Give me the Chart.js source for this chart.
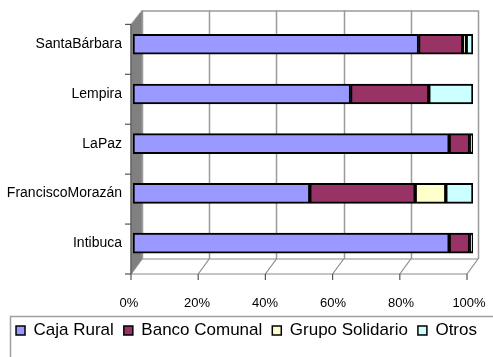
<!DOCTYPE html>
<html><head><meta charset="utf-8">
<script src="https://cdn.jsdelivr.net/npm/chart.js@4/dist/chart.umd.min.js"></script>
<style>html,body{margin:0;padding:0;background:#fff}canvas{display:block}</style>
</head><body>
<canvas id="c" width="493" height="357"></canvas>
<script>
const categories = ["SantaBárbara", "Lempira", "LaPaz", "FranciscoMorazán", "Intibuca"];
const cajaRural = [84, 64, 93, 52, 93];
const bancoComunal = [13, 23, 6, 31, 6];
const grupoSolidario = [1, 0, 0, 9, 0];
const otros = [2, 13, 1, 8, 1];
const tickValues = [0, 20, 40, 60, 80, 100];

const FONT = "'Liberation Sans Narrow', 'Liberation Sans', Arial, sans-serif";

const walls = {
  id: 'walls',
  beforeDatasetsDraw(chart) {
    const ctx = chart.ctx, ca = chart.chartArea, xs = chart.scales.x;
    const fL = xs.getPixelForValue(0) - 2, fR = xs.getPixelForValue(100) - 6;
    const fT = ca.top + 5, fB = ca.bottom + 6;
    const dx = 11, dy = -14;
    const bL = fL + dx, bR = fR + dx, bT = fT + dy, bB = fB + dy - 1;
    const front = v => fL + (fR - fL) * v / 100;
    const back = v => bL + (bR - bL) * v / 100;
    ctx.save();
    ctx.fillStyle = '#ffffff';
    ctx.fillRect(bL, bT, bR - bL, bB - bT);
    ctx.strokeStyle = '#9a9a9a';
    ctx.lineWidth = 1.5;
    tickValues.forEach(v => {
      const x = Math.round(back(v)) + 0.5;
      ctx.beginPath(); ctx.moveTo(x, bT); ctx.lineTo(x, bB); ctx.stroke();
    });
    ctx.beginPath(); ctx.moveTo(bL, bT + 0.5); ctx.lineTo(bR, bT + 0.5); ctx.stroke();
    ctx.fillStyle = '#808080';
    ctx.beginPath();
    ctx.moveTo(fL, fT); ctx.lineTo(bL, bT); ctx.lineTo(bL, bB); ctx.lineTo(fL, fB); ctx.closePath();
    ctx.fill();
    ctx.strokeStyle = '#9a9a9a'; ctx.lineWidth = 1; ctx.stroke();
    ctx.strokeStyle = '#8a8a8a';
    ctx.lineWidth = 1.2;
    tickValues.forEach(v => {
      ctx.beginPath(); ctx.moveTo(back(v), bB); ctx.lineTo(front(v), fB); ctx.stroke();
    });
    ctx.beginPath(); ctx.moveTo(bL, bB); ctx.lineTo(bR, bB); ctx.stroke();
    ctx.beginPath(); ctx.moveTo(fL, fB); ctx.lineTo(fR, fB); ctx.stroke();
    ctx.strokeStyle = '#555';
    tickValues.forEach(v => {
      ctx.beginPath(); ctx.moveTo(front(v), fB); ctx.lineTo(front(v), fB + 6); ctx.stroke();
    });
    for (let i = 0; i <= categories.length; i++) {
      const y = fT + (fB - fT) * i / categories.length;
      ctx.beginPath(); ctx.moveTo(fL - 6, y); ctx.lineTo(fL, y); ctx.stroke();
    }
    ctx.beginPath(); ctx.moveTo(fL, fT); ctx.lineTo(fL, fB); ctx.stroke();
    ctx.restore();
  },
  afterDraw(chart) {
    const ctx = chart.ctx, lg = chart.legend;
    ctx.save();
    ctx.strokeStyle = '#a0a0a0';
    ctx.lineWidth = 1.5;
    ctx.strokeRect(10.5, lg.top + 4.5, 520, 100);
    ctx.restore();
  }
};

const mk = (label, data, color) => ({
  label, data, backgroundColor: color, borderColor: '#000000', borderWidth: 2,
  barThickness: 20, borderSkipped: false
});

new Chart(document.getElementById('c'), {
  type: 'bar',
  data: {
    labels: categories,
    datasets: [
      mk('Caja Rural', cajaRural, '#9999FF'),
      mk('Banco Comunal', bancoComunal, '#993366'),
      mk('Grupo Solidario', grupoSolidario, '#FFFFCC'),
      mk('Otros', otros, '#CCFFFF')
    ]
  },
  options: {
    indexAxis: 'y',
    responsive: false,
    animation: false,
    layout: { padding: { top: 16, right: 0, bottom: 8, left: 0 } },
    plugins: {
      legend: {
        position: 'bottom',
        labels: {
          boxWidth: 9, boxHeight: 9, padding: 10, color: '#000',
          font: { family: "'Liberation Sans', Arial, sans-serif", size: 17 },
          generateLabels(chart) {
            return chart.data.datasets.map((d, i) => ({
              text: d.label, fillStyle: d.backgroundColor, strokeStyle: '#000',
              lineWidth: 1.5, datasetIndex: i, hidden: false, fontColor: '#000'
            }));
          }
        }
      },
      tooltip: { enabled: false }
    },
    scales: {
      x: {
        stacked: true, min: 0, max: 100,
        afterBuildTicks(s) { s.ticks = tickValues.map(v => ({ value: v })); },
        afterFit(s) { s.height = 44; s.paddingLeft = 0; s.paddingRight = 20; },
        grid: { display: false, drawTicks: false },
        border: { display: false },
        ticks: {
          padding: 28, labelOffset: -4, color: '#000',
          font: { family: FONT, size: 13 },
          callback: v => v + '%'
        }
      },
      y: {
        stacked: true,
        afterFit(s) { s.width = 133; },
        grid: { display: false, drawTicks: false },
        border: { display: false },
        ticks: { padding: 11, color: '#000', font: { family: FONT, size: 14 } }
      }
    }
  },
  plugins: [walls]
});
</script>
</body></html>
